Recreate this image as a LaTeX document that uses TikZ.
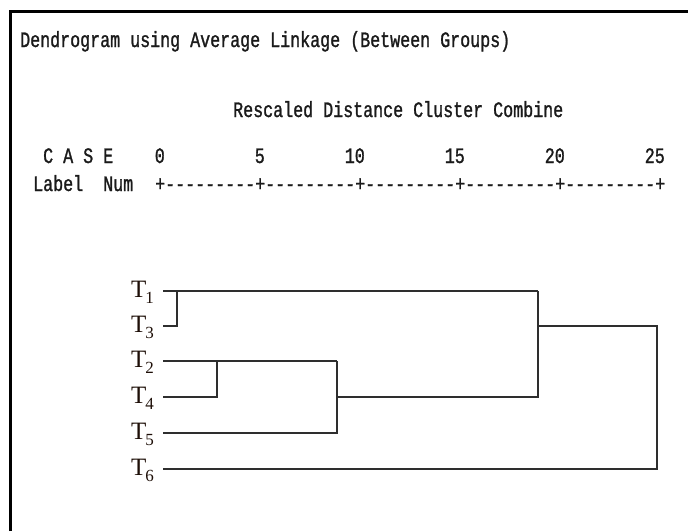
\documentclass[tikz,border=0pt]{standalone}
\usepackage{fontspec}
\newfontfamily\spssmono[FakeStretch=0.7576,FakeBold=1.2,Ligatures=TeXOff]{Liberation Mono}
\newfontfamily\leafserif{Liberation Serif}
\definecolor{leafcol}{HTML}{1E0F08}
\definecolor{linkcol}{HTML}{2E2E2E}
\definecolor{textcol}{HTML}{1A1A1A}
\begin{document}
\begin{tikzpicture}[x=1pt,y=-1pt,
  mono/.style={font=\spssmono\fontsize{22}{24}\selectfont, inner sep=0pt, text=textcol, anchor=base west},
  monoR/.style={mono, anchor=base east},
  leaf/.style={font=\leafserif\fontsize{25}{27}\selectfont, inner sep=0pt, text=leafcol, anchor=base west},
  link/.style={draw=linkcol, line width=2.4pt, line join=miter},
  frame/.style={draw=black, line width=3pt}
]
\useasboundingbox (0,0) rectangle (688,531);
% frame (top and left only)
\coordinate (fbl) at (10,531);
\coordinate (ftl) at (10,11);
\coordinate (ftr) at (688,11);
\draw[frame] (fbl) -- (ftl) -- (ftr);

% header texts
\node[mono] (title) at (20,47) {Dendrogram using Average Linkage (Between Groups)};
\node[mono] (resc) at (233,117) {Rescaled Distance Cluster Combine};
\node[mono] (case) at (43,163) {C A S E};
\node[mono] (lab) at (33,191) {Label};
\node[mono] (num) at (103,191) {Num};
\node[mono] (axis) at (155,191) {+---------+---------+---------+---------+---------+};
\node[monoR] (n0) at (165,163) {0};
\node[monoR] (n5) at (265,163) {5};
\node[monoR] (n10) at (365,163) {10};
\node[monoR] (n15) at (465,163) {15};
\node[monoR] (n20) at (565,163) {20};
\node[monoR] (n25) at (665,163) {25};

% leaf labels
\newcommand{\leafsub}[1]{\kern-1pt\raisebox{-6pt}{\fontsize{17}{17}\selectfont #1}}
\node[leaf] (l1) at (131,297) {T\leafsub{1}};
\node[leaf] (l3) at (131,332) {T\leafsub{3}};
\node[leaf] (l2) at (131,367) {T\leafsub{2}};
\node[leaf] (l4) at (131,403) {T\leafsub{4}};
\node[leaf] (l5) at (131,439) {T\leafsub{5}};
\node[leaf] (l6) at (131,475) {T\leafsub{6}};

% leaf line starts
\coordinate (s1) at (163,291);
\coordinate (s3) at (163,326);
\coordinate (s2) at (163,361);
\coordinate (s4) at (163,397);
\coordinate (s5) at (163,433);
\coordinate (s6) at (163,469);
% junctions
\coordinate (a13) at (177,291);
\coordinate (a24) at (217,361);
\coordinate (b1) at (337,361);
\coordinate (b2) at (337,397);
\coordinate (j1) at (538,291);
\coordinate (j2) at (538,326);
\coordinate (r1) at (657,469);

\draw[link] (s1) -- (j1);
\draw[link] (s3) -| (a13);
\draw[link] (s2) -- (b1);
\draw[link] (s4) -| (a24);
\draw[link] (s5) -| (b1);
\draw[link] (b2) -| (j1);
\draw[link] (j2) -| (r1) -- (s6);
\end{tikzpicture}
\end{document}
